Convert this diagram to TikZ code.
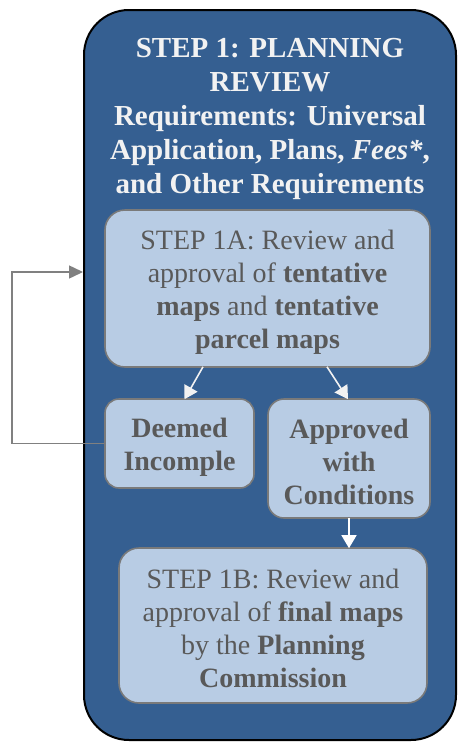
\documentclass[tikz,border=0pt]{standalone}
\usepackage{fontspec}
\setmainfont{Liberation Serif}
\usetikzlibrary{arrows.meta,calc}
\definecolor{outerblue}{HTML}{355F91}
\definecolor{boxblue}{HTML}{B8CCE4}
\definecolor{txtgray}{HTML}{595959}
\definecolor{edgegray}{HTML}{7A7A7A}
\definecolor{fbgray}{HTML}{808080}
\definecolor{offwhite}{HTML}{F2F2F2}
\newcommand{\mystrut}{\rule{0pt}{26pt}}
\tikzset{
  stepbox/.style={draw=edgegray, line width=1.6pt, fill=boxblue, text=txtgray,
    align=center, inner sep=0pt, font=\fontsize{28}{33}\selectfont},
  warrow/.style={draw=offwhite, line width=1.6pt, -{Triangle[length=13pt,width=15pt,fill=offwhite]}},
  garrow/.style={draw=fbgray, line width=1.5pt, -{Triangle[length=14pt,width=13pt,fill=fbgray]}},
}
\begin{document}
\begin{tikzpicture}[x=1pt,y=-1pt]
\useasboundingbox (0,0) rectangle (459,742);
\node[draw=black, line width=2pt, fill=outerblue, rounded corners=45pt,
  minimum width=372pt, minimum height=730pt, inner sep=0pt] (outer) at (270,375) {};
\node[text=offwhite, align=center, inner sep=0pt, font=\fontsize{29}{33.8}\selectfont\bfseries]
  (title) at (270,119) {STEP 1: PLANNING\\REVIEW\\Requirements: Universal\\Application, Plans, \textit{Fees*},\\and Other Requirements};
\node[stepbox, rounded corners=20pt, minimum width=325pt, minimum height=157pt] (boxA) at (267.5,288.5)
  {\mystrut STEP 1A: Review and\\approval of \textbf{tentative}\\\textbf{maps} and \textbf{tentative}\\\textbf{parcel maps}};
\node[stepbox, rounded corners=14pt, minimum width=149pt, minimum height=89pt] (deemed) at (179.5,443.5)
  {\mystrut\textbf{Deemed}\\\textbf{Incomple}};
\node[stepbox, rounded corners=16pt, minimum width=162pt, minimum height=119pt] (approved) at (349,458.5)
  {\mystrut\textbf{Approved}\\\textbf{with}\\\textbf{Conditions}};
\node[stepbox, rounded corners=20pt, minimum width=308pt, minimum height=155pt] (boxB) at (273,625.5)
  {\mystrut STEP 1B: Review and\\approval of \textbf{final maps}\\by the \textbf{Planning}\\\textbf{Commission}};
\draw[warrow] ([xshift=-64.5pt,yshift=1pt]boxA.south) -- ([xshift=5pt,yshift=-1pt]deemed.north);
\draw[warrow, draw=white, -{Triangle[length=13pt,width=15pt,fill=white]}] ([yshift=1pt]approved.south) -- ([yshift=-1pt]approved.south |- boxB.north);
\draw[warrow] ([xshift=59.5pt,yshift=1pt]boxA.south) -- ([xshift=-1pt,yshift=-1pt]approved.north);
\coordinate (fbtop) at (12,272);
\draw[garrow] (deemed.west) -| (fbtop) -- (fbtop -| outer.west);
\end{tikzpicture}
\end{document}
